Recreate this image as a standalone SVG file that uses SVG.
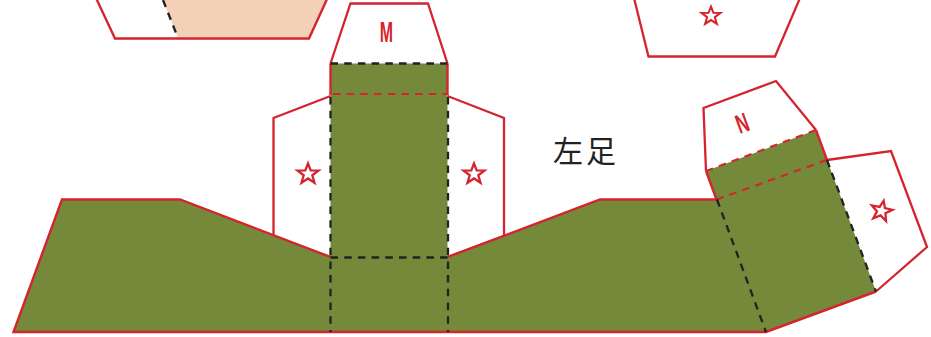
<svg xmlns="http://www.w3.org/2000/svg" width="931" height="337" viewBox="0 0 931 337">
<style>
.o{fill:#fff;stroke:#d4252f;stroke-width:2.3;stroke-linejoin:miter}
.g{fill:#748939;stroke:none}
.p{fill:#f4d0b7;stroke:none}
.r{fill:none;stroke:#d4252f;stroke-width:2.4}
.rd{fill:none;stroke:#d4252f;stroke-width:2.1;stroke-dasharray:7.500 6.200}
.kd{fill:none;stroke:#222;stroke-width:2.300;stroke-dasharray:7.500 6.200}
.s{fill:#fff;stroke:#d4252f;stroke-width:2.300}
.l{fill:#d4252f;font-family:"Liberation Sans",Arial,sans-serif;font-weight:700;text-anchor:middle}
.t{fill:#222;font-family:"Noto Sans CJK SC","Noto Sans CJK JP",sans-serif;font-size:30px;letter-spacing:3px}
</style>
<defs>
<polygon id="star" points="0,-10.500 2.700,-3.600 10.500,-3.400 4.300,1.300 6.500,8.800 0,4.500 -6.500,8.800 -4.300,1.300 -10.500,-3.400 -2.700,-3.600"/>
</defs>
<g id="top-left-piece">
<polygon class="p" points="162,-2 178,37.500 308.500,37.500 326.500,-2"/>
<path class="r" d="M96,-2L115,38.500H309L327.500,-2"/>
<path class="kd" d="M163,0L178,38"/>
</g>
<g id="top-right-piece">
<path class="o" d="M634,-2L648.500,56.500H775L800,-2"/>
<use href="#star" class="s" transform="translate(711,16) scale(.9)"/>
</g>
<g id="flap-left">
<path class="o" d="M330.500,96L273.500,118V236L330.500,257"/>
<use href="#star" class="s" transform="translate(308,174)"/>
</g>
<g id="flap-right">
<path class="o" d="M447.500,96L504,118V236L447.500,257"/>
<use href="#star" class="s" transform="translate(474,174)"/>
</g>
<g id="flap-m">
<path class="o" d="M330.500,63.500L350.500,3.500H428L447.500,63.500"/>
<text class="l" font-size="29" transform="translate(386.500,42) scale(.55,1)">M</text>
</g>
<g id="flap-n">
<path class="o" d="M706,171L703.500,108L776,81L816,130"/>
<text class="l" font-size="27" transform="translate(745.500,132) rotate(-20) scale(.62,1)">N</text>
</g>
<g id="flap-star">
<path class="o" d="M827,160L891,151L927,247L876,291.500"/>
<use href="#star" class="s" transform="translate(881.500,211) rotate(12)"/>
</g>
<g id="left-foot-body">
<polygon class="g" points="13.500,332 62,199.500 180,199.500 330.500,257 330.500,63.500 447.500,63.500 447.500,257 600,199.500 716.500,199.500 706,171 816,130 827,160 876,291.500 766,332"/>
<path class="r" d="M330.500,257L180,199.500H62L13.500,332H766L876,291.500"/>
<path class="r" d="M447.500,257L600,199.500H716.500L706,171"/>
<path class="r" d="M330.500,95V63.500M447.500,95V63.500"/>
<path class="r" d="M816,130L827,160"/>
</g>
<g id="label">
<text class="t" x="553" y="162">左足</text>
</g>
<g id="connectors">
<path class="kd" d="M330.500,63.500H447.500"/>
<path class="rd" d="M333,94H447.500"/>
<path class="kd" d="M330.500,97V332"/>
<path class="kd" d="M448,97V332"/>
<path class="kd" d="M330.500,257.500H447.500"/>
<path class="rd" d="M706,171L816,130"/>
<path class="rd" d="M716.500,199.500L827,160"/>
<path class="kd" d="M717,199.500L766,332"/>
<path class="kd" d="M827,160L876,291.500"/>
</g>
</svg>
